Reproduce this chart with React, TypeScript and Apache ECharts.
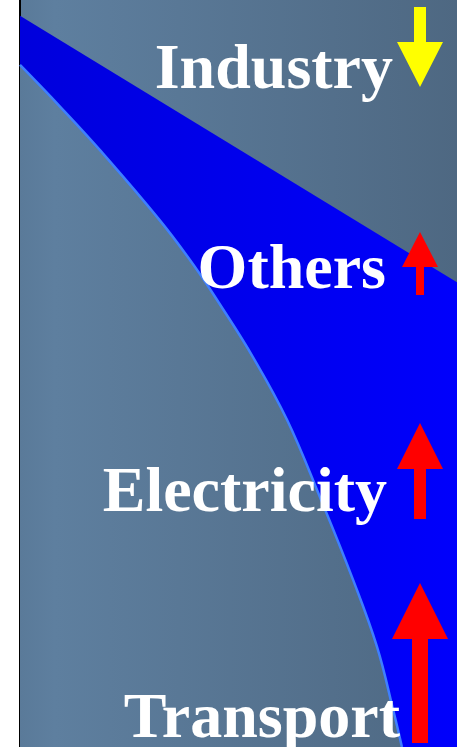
import React, { useEffect, useRef } from "react";
import * as echarts from "echarts";

// Band upper boundary (0 = bottom, 100 = top; x: 0 = left axis, 100 = right edge)
const upperX = [0, 100];
const upper = [97.9, 62.2];
// Band lower boundary
const lowerX = [0, 9.2, 18.3, 32, 40, 45.8, 53.3, 61.1, 68.6, 76.2, 81.7, 85.4, 87.4];
const lower = [91.3, 85.7, 79.9, 70.5, 64.3, 59.2, 52.2, 43.8, 33.5, 22.4, 13.4, 4.95, 0];

const labels = ["Industry", "Others", "Electricity", "Transport"];
const trends = ["down", "up", "up", "up"];

export default function App() {
  const ref = useRef<HTMLDivElement>(null);
  useEffect(() => {
    if (!ref.current) return;
    const chart = echarts.init(ref.current, undefined, { renderer: "svg" });

    const W = 457;
    const left = 20;
    const bgStops = [
      { offset: 0, color: "#5a7a99" },
      { offset: 0.08, color: "#5e7f9f" },
      { offset: 1, color: "#4e6882" },
    ];
    const bgGrad = () => new echarts.graphic.LinearGradient(left, 0, W, 0, bgStops, true);

    const font = 'bold 64px "Liberation Serif", "Times New Roman", serif';
    // label layout: [right x, baseline y]
    const labelPos: [number, number][] = [
      [393, 87],
      [386, 287],
      [387, 510],
      [400, 736],
    ];
    // arrows: cx, tip, headBase, headHalf, shaftHalf, tail
    const arrows = [
      [420, 87, 42, 23, 6, 7],
      [420, 232, 267, 18, 4, 295],
      [420, 423, 469, 23, 6, 519],
      [420, 583, 639, 28, 8, 743],
    ];
    const arrowPoly = (a: number[]) => {
      const [cx, tip, base, hh, sh, tail] = a;
      return [
        [cx, tip],
        [cx + hh, base],
        [cx + sh, base],
        [cx + sh, tail],
        [cx - sh, tail],
        [cx - sh, base],
        [cx - hh, base],
      ];
    };

    const graphic: any[] = [];
    labels.forEach((t, i) => {
      graphic.push({
        type: "text",
        z: 10,
        style: {
          x: labelPos[i][0],
          y: labelPos[i][1] - 21,
          text: t,
          font,
          fill: "#ffffff",
          align: "right",
          verticalAlign: "middle",
        },
      });
      graphic.push({
        type: "polygon",
        z: 10,
        shape: { points: arrowPoly(arrows[i]) },
        style: { fill: trends[i] === "down" ? "#ffff00" : "#ff0000" },
      });
    });

    chart.setOption({
      animation: false,
      grid: {
        left,
        right: 0,
        top: 0,
        bottom: 0,
        show: true,
        borderWidth: 0,
        backgroundColor: bgGrad(),
      },
      xAxis: {
        type: "value",
        min: 0,
        max: 100,
        show: false,
      },
      yAxis: {
        type: "value",
        min: 0,
        max: 100,
        offset: 1,
        axisLine: { show: true, lineStyle: { color: "#000000", width: 2 } },
        axisTick: { show: false },
        axisLabel: { show: false },
        splitLine: { show: false },
      },
      series: [
        {
          name: "upper",
          type: "line",
          z: 2,
          smooth: false,
          symbol: "none",
          lineStyle: { width: 0 },
          areaStyle: {
            opacity: 1,
            origin: "start",
            color: new echarts.graphic.LinearGradient(0, 0, 1, 0, [
              { offset: 0, color: "#0000dc" },
              { offset: 1, color: "#0000fc" },
            ]),
          },
          data: upperX.map((x, i) => [x, upper[i]]),
        },
        {
          name: "lower",
          type: "line",
          z: 3,
          smooth: 0.4,
          symbol: "none",
          lineStyle: { color: "#3f7fff", width: 2.5 },
          areaStyle: { opacity: 1, origin: "start", color: bgGrad() },
          data: lowerX.map((x, i) => [x, lower[i]]),
        },
      ],
      graphic,
    });
    return () => chart.dispose();
  }, []);
  return (
    <div
      ref={ref}
      style={{ position: "absolute", left: 0, top: 0, width: 457, height: 747 }}
    />
  );
}
